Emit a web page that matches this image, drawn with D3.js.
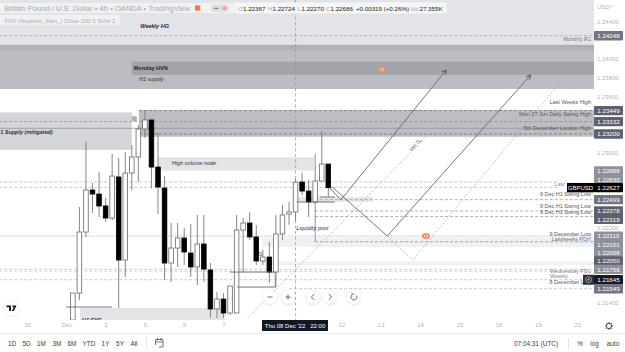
<!DOCTYPE html>
<html>
<head>
<meta charset="utf-8">
<script src="https://d3js.org/d3.v7.min.js"></script>
<style>
html,body{margin:0;padding:0;background:#fff;width:625px;height:352px;overflow:hidden}
svg{display:block}
text{font-family:"Liberation Sans",Arial,sans-serif}
</style>
</head>
<body>
<svg id="chart" width="625" height="352"></svg>
<script>
// GBP/USD 4h candles, first bar sits at index 7 of the session count
const firstBar = 7;
const opens  = [1.21215,1.21503,1.22154,1.22602,1.22559,1.22432,1.22303,1.22741,1.21855,1.22783,1.22954,1.23253,1.23349,1.22847,1.22623,1.21823,1.21983,1.22090,1.21930,1.21781,1.22026,1.21749,1.21333,1.21439,1.21290,1.21290,1.22175,1.22250,1.22101,1.21845,1.21887,1.21727,1.22133,1.22346,1.22367,1.22687,1.22591,1.22474,1.22698,1.22879];
const highs  = [1.21503,1.22421,1.23114,1.22677,1.22794,1.22517,1.22986,1.22943,1.23008,1.23082,1.23295,1.23455,1.23349,1.23210,1.22751,1.22250,1.22250,1.22197,1.22239,1.22336,1.22336,1.21823,1.21514,1.21503,1.21578,1.22336,1.22303,1.22367,1.22229,1.21962,1.22047,1.22336,1.22442,1.22474,1.22724,1.22783,1.22709,1.22986,1.23231,1.22879];
const lows   = [1.21215,1.21429,1.22101,1.22357,1.22314,1.22261,1.22282,1.21343,1.21674,1.22602,1.22687,1.23157,1.22623,1.22346,1.21642,1.21621,1.21781,1.21802,1.21674,1.21589,1.21621,1.21237,1.21237,1.21237,1.21269,1.21290,1.21727,1.22069,1.21802,1.21802,1.21610,1.21567,1.22069,1.22229,1.22270,1.22549,1.22314,1.22453,1.22698,1.22527];
const closes = [1.21503,1.22154,1.22602,1.22559,1.22432,1.22303,1.22751,1.21855,1.22783,1.22954,1.23253,1.23349,1.22847,1.22634,1.21823,1.21983,1.22090,1.21941,1.21781,1.22026,1.21759,1.21333,1.21439,1.21290,1.21578,1.22175,1.22250,1.22101,1.21845,1.21887,1.21727,1.22133,1.22336,1.22368,1.22686,1.22591,1.22474,1.22698,1.22879,1.22627];

// Time axis labels and the bar index each day begins at
const dayLabels = ["30","Dec","2","5","6","7","12","13","14","15","16","19","20"];
const dayStarts = [0,6,12,18,24,30,48,54,60,66,72,78,84];

// Regular price axis ticks that stay clear of the price tags
const priceTicks = [1.244,1.240,1.238,1.236,1.230,1.222,1.214];

// Price tags on the right edge, with a shade name per tag
const tagPrices = [1.24248,1.23449,1.23332,1.23200,1.22688,1.22630,1.22627,1.22499,1.22378,1.22319,1.22110,1.22101,1.22098,1.22050,1.21756,1.21645,1.21549];
const tagShades = ["mid","dark","dark","dark","pale","pale","last","mid","dark","dark","pale","pale","pale","dark","pale","navy","mid"];
const lastPrice = 1.22627;

// Shaded zones: [from index, to index, upper price, lower price, fill]
const zoneList = [
  [-5,87,1.24700,1.24150,"#e3e4e8"],
  [-5,87,1.24150,1.23680,"#bcbdc2"],
  [-5,87,1.24150,1.24090,"#b2b3b8"],
  [16,87,1.23970,1.23830,"#a2a4ab"],
  [17.1,87,1.23455,1.23170,"#bdbec3"],
  [-5,16,1.23430,1.23030,"#d4d5d9"],
  [20,43.8,1.22950,1.22810,"#e3e4e8"],
  [41.4,52.8,1.22527,1.22475,"#e6e7ea"],
  [35.9,87,1.22095,1.21995,"#eff0f2"],
  [35.9,87,1.21840,1.21800,"#f0f1f3"],
  [8.1,30.2,1.21343,1.21200,"#e3e4e8"]
];

// Horizontal levels: [from index, to index, price, dash, colour, width]
const levelList = [
  [-5,87,1.24248,"3,2","#a5a7ae",0.8],
  [-5,87,1.24135,"","#a9aab0",0.8],
  [17.1,87,1.23449,"3,2","#77797f",0.8],
  [-5,87,1.23332,"3,2","#8f9197",0.8],
  [-5,87,1.23260,"","#94959b",0.8],
  [17.1,87,1.23200,"3,2","#6f7178",0.8],
  [-5,81,1.22688,"3,2","#b7b9bf",0.8],
  [-5,81,1.22630,"3,2","#b7b9bf",0.8],
  [44.7,87,1.22499,"3,2","#9b9da4",0.8],
  [44,87,1.22378,"3,2","#9b9da4",0.8],
  [44,87,1.22319,"3,2","#9b9da4",0.8],
  [-5,87,1.22110,"1.5,1.5","#c6c8cd",1.4],
  [44,87,1.22050,"3,2","#8f9197",0.8],
  [-5,87,1.21756,"3,2","#bcbec3",0.8],
  [-5,87,1.21735,"3,2","#c8cacf",0.8],
  [-5,87,1.21645,"3,2","#bcbec3",0.8],
  [40,87,1.21549,"3,2","#bcbec3",0.8]
];

// Solid drawn boxes around the pullback structure: [from index, to index, price]
const boxLines = [
  [6,13,1.21354],
  [31,37.9,1.21727],
  [32.1,38,1.21567],
  [41.2,47,1.22474],
  [44.7,47,1.22527]
];
const boxUprights = [[37.9,1.21727,1.21567],[44,1.22474,1.22050]];

// Projected paths as [bar index, price] pairs
const arrowOne = [[46.1,1.22634],[47.9,1.22495],[64,1.23882]];
const arrowTwo = [[46.6,1.22634],[55,1.22111],[76.9,1.23829]];
const dottedTrend = [[33.7,1.21237],[60.9,1.23167]];
const dottedPath = [[55,1.22111],[58.9,1.21855],[82.6,1.23850]];

// Text notes on the chart: [text, index, price, anchor, weight, style, colour]
const noteList = [
  ["Weekly HG",17.3,1.24335,"start","700","italic","#26282e"],
  ["Monday HVN",16.3,1.23882,"start","700","normal","#24262c"],
  ["H1 supply",17.1,1.23760,"start","400","italic","#2e3036"],
  ["1 Supply (mitigated)",-4.1,1.23195,"start","700","italic","#2e3036"],
  ["High volume node",22.1,1.22870,"start","400","italic","#2e3036"],
  ["Liquidity pool",41.1,1.22175,"start","400","italic","#2e3036"],
  ["H1 FVG",8.4,1.21190,"start","700","italic","#2e3036"],
  ["S",35.4,1.21900,"start","400","normal","#55575e"],
  ["Monthly R1",86.1,1.24192,"end","400","normal","#74767d"],
  ["Last Weeks High",86.1,1.23520,"end","400","normal","#55575e"],
  ["Mon 27 Jun Daily Swing High",86.1,1.23395,"end","400","normal","#55575e"],
  ["5th December London High",86.1,1.23245,"end","400","normal","#55575e"],
  ["Last",82.1,1.22645,"end","400","normal","#8a8c93"],
  ["9 Dec H1 Swing Low",86.1,1.22538,"end","400","normal","#55575e"],
  ["9 Dec H1 Swing Low",86.1,1.22410,"end","400","normal","#55575e"],
  ["9 Dec H1 Swing Low",86.1,1.22346,"end","400","normal","#55575e"],
  ["9 December Low",86.1,1.22115,"end","400","normal","#55575e"],
  ["Lastweeks PDH",86.1,1.22060,"end","400","normal","#74767d"],
  ["Wednesday PDL",86.1,1.21720,"end","400","normal","#85878e"],
  ["Weekly",82.6,1.21665,"end","400","normal","#85878e"],
  ["8 December Low",86.1,1.21600,"end","400","normal","#55575e"]
];

// Orange alert markers
const alertMarks = [[54.2,1.23890],[60.9,1.22111]];

// Range buttons along the footer
const rangeNames = ["1D","5D","1M","3M","6M","YTD","1Y","5Y","All"];

const W = 625, H = 352, plotW = 594, plotH = 320;
const svg = d3.select("#chart");
const x = d3.scaleLinear().domain([-27/6.55,(plotW-27)/6.55]).range([0,plotW]);
const y = d3.scaleLinear().domain([1.23+152.7/9375,1.23-167.3/9375]).range([0,plotH]);

svg.append("defs").append("clipPath").attr("id","plotClip")
  .append("rect").attr("width",plotW).attr("height",plotH);
const defs = svg.select("defs");
const shadow = defs.append("filter").attr("id","softShadow")
  .attr("x","-50%").attr("y","-50%").attr("width","200%").attr("height","200%");
shadow.append("feDropShadow").attr("dx",0).attr("dy",0.5).attr("stdDeviation",1.4)
  .attr("flood-color","#000").attr("flood-opacity",0.18);

const plot = svg.append("g").attr("clip-path","url(#plotClip)");

// Zones
plot.selectAll("rect.zone").data(zoneList).join("rect").attr("class","zone")
  .attr("x",d=>x(d[0])).attr("width",d=>x(d[1])-x(d[0]))
  .attr("y",d=>y(d[2])).attr("height",d=>y(d[3])-y(d[2]))
  .attr("fill",d=>d[4]);

// Levels
plot.selectAll("line.level").data(levelList).join("line").attr("class","level")
  .attr("x1",d=>x(d[0])).attr("x2",d=>x(d[1]))
  .attr("y1",d=>y(d[2])).attr("y2",d=>y(d[2]))
  .attr("stroke",d=>d[4]).attr("stroke-width",d=>d[5])
  .attr("stroke-dasharray",d=>d[3]||null);

// Crosshair on the active bar
const crossBar = 41;
plot.append("line").attr("x1",x(crossBar)).attr("x2",x(crossBar)).attr("y1",0).attr("y2",plotH)
  .attr("stroke","#9a9ca3").attr("stroke-width",0.8).attr("stroke-dasharray","3,2.5");

// Dotted projections
const pathLine = d3.line().x(d=>x(d[0])).y(d=>y(d[1]));
[dottedTrend,dottedPath].forEach(p=>{
  plot.append("path").attr("d",pathLine(p)).attr("fill","none")
    .attr("stroke","#a3a5ab").attr("stroke-width",0.8).attr("stroke-dasharray","1.6,1.8");
});

// Candles
const bars = opens.map((o,i)=>({i:i+firstBar,o,h:highs[i],l:lows[i],c:closes[i]}));
const candle = plot.selectAll("g.bar").data(bars).join("g").attr("class","bar");
candle.append("line")
  .attr("x1",d=>x(d.i)).attr("x2",d=>x(d.i))
  .attr("y1",d=>y(d.h)).attr("y2",d=>y(d.l))
  .attr("stroke","#77797e").attr("stroke-width",0.9);
candle.append("rect")
  .attr("x",d=>x(d.i)-2.3).attr("width",4.6)
  .attr("y",d=>y(Math.max(d.o,d.c)))
  .attr("height",d=>Math.max(1,Math.abs(y(d.o)-y(d.c))))
  .attr("fill",d=>d.c>=d.o?"#fff":"#000")
  .attr("stroke",d=>d.c>=d.o?"#66686c":"#000").attr("stroke-width",0.8);

// Drawn boxes
plot.selectAll("line.box").data(boxLines).join("line").attr("class","box")
  .attr("x1",d=>x(d[0])).attr("x2",d=>x(d[1]))
  .attr("y1",d=>y(d[2])).attr("y2",d=>y(d[2]))
  .attr("stroke","#66686c").attr("stroke-width",0.9);
plot.selectAll("line.upright").data(boxUprights).join("line").attr("class","upright")
  .attr("x1",d=>x(d[0])).attr("x2",d=>x(d[0]))
  .attr("y1",d=>y(d[1])).attr("y2",d=>y(d[2]))
  .attr("stroke","#77797e").attr("stroke-width",0.8);

// Projected arrows with open heads
function arrowHead(p){
  const a=p[p.length-2], b=p[p.length-1];
  const ang=Math.atan2(y(b[1])-y(a[1]),x(b[0])-x(a[0]));
  const tip=[x(b[0]),y(b[1])], s=5;
  return d3.line()([
    [tip[0]-s*Math.cos(ang-0.5),tip[1]-s*Math.sin(ang-0.5)],
    tip,
    [tip[0]-s*Math.cos(ang+0.5),tip[1]-s*Math.sin(ang+0.5)]
  ]);
}
[arrowOne,arrowTwo].forEach(p=>{
  plot.append("path").attr("d",pathLine(p)).attr("fill","none")
    .attr("stroke","#66686e").attr("stroke-width",0.9);
  plot.append("path").attr("d",arrowHead(p)).attr("fill","none")
    .attr("stroke","#55575d").attr("stroke-width",0.9);
});

// Notes
plot.selectAll("text.note").data(noteList).join("text").attr("class","note")
  .attr("x",d=>x(d[1])).attr("y",d=>y(d[2]))
  .attr("text-anchor",d=>d[3]).attr("font-weight",d=>d[4]).attr("font-style",d=>d[5])
  .attr("fill",d=>d[6]).attr("font-size",5.5).text(d=>d[0]);

plot.append("text").text("HH TL").attr("font-size",5.2).attr("fill","#55575d")
  .attr("text-anchor","middle")
  .attr("transform",`translate(${x(59.5)},${y(1.23070)}) rotate(-47)`);

// Alert markers
alertMarks.forEach(m=>{
  const g=plot.append("g").attr("transform",`translate(${x(m[0])},${y(m[1])})`);
  g.append("ellipse").attr("rx",4).attr("ry",3).attr("fill","#f28a5a");
  g.append("ellipse").attr("rx",2).attr("ry",1.5).attr("fill","#fbe3d8");
  g.append("circle").attr("r",0.9).attr("fill","#ee6a2c");
});

// Small tag by the supply zone
plot.append("rect").attr("x",x(16)).attr("y",y(1.2339)).attr("width",5).attr("height",5)
  .attr("rx",1).attr("fill","#b0b1b6");

// Price axis
const yAxis = d3.axisRight(y).tickValues(priceTicks).tickSize(0).tickPadding(3)
  .tickFormat(d3.format(".5f"));
const yG = svg.append("g").attr("transform",`translate(${plotW},0)`).call(yAxis);
yG.select(".domain").remove();
yG.selectAll("text").attr("font-size",6).attr("fill","#b2b5bd");

svg.append("text").text("USD").attr("x",597).attr("y",8.5).attr("font-size",6).attr("fill","#b2b5bd");
svg.append("path").attr("d",d3.line()([[610,5.5],[611.5,7.2],[613,5.5]])).attr("fill","none")
  .attr("stroke","#b2b5bd").attr("stroke-width",0.7);

// Price tags: the last price stays put, the others stack away from it
const shadeFill = {mid:"#74767f",dark:"#5f626c",pale:"#8f9198",navy:"#171a24",last:"#000"};
const tagGap = 8.3;
const tagY = tagPrices.map(p=>y(p));
const pinned = tagPrices.indexOf(lastPrice);
for(let i=pinned-1;i>=0;i--) tagY[i]=Math.min(tagY[i],tagY[i+1]-tagGap);
for(let i=pinned+1;i<tagY.length;i++) tagY[i]=Math.max(tagY[i],tagY[i-1]+tagGap);
const tags = svg.selectAll("g.tag").data(tagPrices).join("g").attr("class","tag")
  .attr("transform",(d,i)=>`translate(${plotW},${tagY[i]})`);
tags.append("rect").attr("x",0).attr("y",-4.7).attr("width",29).attr("height",9.4).attr("rx",0.8)
  .attr("fill",(d,i)=>shadeFill[tagShades[i]]);
tags.append("text").attr("x",14.5).attr("y",2.2).attr("text-anchor","middle")
  .attr("font-size",6.2).attr("fill","#fff").text(d=>d3.format(".5f")(d));

// Symbol chip beside the last price
svg.append("rect").attr("x",567).attr("y",y(lastPrice)-4.7).attr("width",27).attr("height",9.4).attr("fill","#000");
svg.append("text").text("GBPUSD").attr("x",580.5).attr("y",y(lastPrice)+2.2)
  .attr("text-anchor","middle").attr("font-size",6).attr("fill","#fff");

// Add-order button at the crosshair price
const plusY = y(1.21645);
svg.append("rect").attr("x",583).attr("y",plusY-5).attr("width",11).attr("height",10).attr("fill","#2c2f39");
svg.append("circle").attr("cx",588.5).attr("cy",plusY).attr("r",3).attr("fill","none").attr("stroke","#d8d9dd").attr("stroke-width",0.6);
svg.append("path").attr("d",`M586.8 ${plusY}h3.4M588.5 ${plusY-1.7}v3.4`).attr("stroke","#d8d9dd").attr("stroke-width",0.5);

// Time axis
const labelByStart = new Map(dayStarts.map((s,i)=>[s,dayLabels[i]]));
const xAxis = d3.axisBottom(x).tickValues(dayStarts).tickSize(0).tickPadding(3)
  .tickFormat(d=>labelByStart.get(d));
const xG = svg.append("g").attr("transform",`translate(0,${plotH})`).call(xAxis);
xG.select(".domain").remove();
xG.selectAll("text").attr("font-size",6).attr("fill","#b2b5bd");

// Crosshair time tag
svg.append("rect").attr("x",262).attr("y",320).attr("width",66).attr("height",11).attr("fill","#131722");
svg.append("text").text("Thu 08 Dec '22   22:00").attr("x",295).attr("y",327.7)
  .attr("text-anchor","middle").attr("font-size",6).attr("fill","#fff").attr("xml:space","preserve");

// Chart navigation buttons
const navG = svg.append("g");
[[270,"minus"],[288,"plus"],[313,"left"],[330,"right"],[354,"reset"]].forEach(([cx,kind])=>{
  const g=navG.append("g").attr("transform",`translate(${cx},297)`);
  g.append("circle").attr("r",6.6).attr("fill","#fff").attr("filter","url(#softShadow)");
  const stroke={fill:"none",stroke:"#5f6169","stroke-width":0.9};
  let d="";
  if(kind==="minus") d="M-2.6 0H2.6";
  if(kind==="plus") d="M-2.6 0H2.6M0 -2.6V2.6";
  if(kind==="left") d="M1.2 -3L-1.6 0L1.2 3";
  if(kind==="right") d="M-1.2 -3L1.6 0L-1.2 3";
  if(kind==="reset") d="M-1.5 -2.6A3 3 0 1 0 2.6 -1.4M-1.5 -2.6L-2.6 -4.2M-1.5 -2.6L0.3 -3.2";
  const path=g.append("path").attr("d",d);
  Object.entries(stroke).forEach(([k,v])=>path.attr(k,v));
});

// Logo badge
const logo = svg.append("g").attr("transform","translate(11.5,308.5)");
logo.append("circle").attr("r",8).attr("fill","#fff").attr("stroke","#e6e7ea").attr("stroke-width",0.7);
logo.append("path").attr("d","M-5 -3H-0.5V2.5H-2.4V-1.2H-5ZM1 -3H5L2.4 2.5H0.4L2.3 -1.2H1Z").attr("fill","#131722");

// Header strips
svg.append("rect").attr("x",0).attr("y",3).attr("width",447).attr("height",10).attr("fill","#f0f1f3");
svg.append("rect").attr("x",236).attr("y",2.5).attr("width",209).attr("height",11).attr("fill","#f6f6f7");
svg.append("rect").attr("x",0).attr("y",15).attr("width",120).attr("height",10).attr("fill","#f0f1f3");
svg.append("text").text("British Pound / U.S. Dollar • 4h • OANDA • TradingView")
  .attr("x",4.5).attr("y",11).attr("font-size",7.6).attr("fill","#a6a9b1");
svg.append("text").text("FVG (Nephew_Sam_) Close 200 5 Solid 2")
  .attr("x",4.5).attr("y",22.5).attr("font-size",5.9).attr("fill","#abadb5");
svg.append("path").attr("d","M195 5.5H201L199.5 8L201 10.5H195Z").attr("fill","#f2793a");
svg.append("rect").attr("x",210.5).attr("y",4.5).attr("width",19).attr("height",7.5).attr("rx",3.7).attr("fill","#dfe0e4");
svg.append("rect").attr("x",214).attr("y",7.8).attr("width",4.5).attr("height",1).attr("fill","#6a6d75");
svg.append("circle").attr("cx",224.5).attr("cy",8.2).attr("r",2).attr("fill","#f3a27c");

const quoteParts = [["O","#a6a9b1",238],["1.22367","#1a1c22",243],["H","#a6a9b1",268],["1.22724","#1a1c22",272.5],["L","#a6a9b1",297.5],["1.22270","#1a1c22",301.5],["C","#a6a9b1",326],["1.22686","#1a1c22",330.5],["+0.00319 (+0.26%)","#1a1c22",356],["Vol","#a6a9b1",410],["27.355K","#1a1c22",419.5]];
svg.selectAll("text.quote").data(quoteParts).join("text").attr("class","quote")
  .attr("x",d=>d[2]).attr("y",11).attr("font-size",6.2).attr("fill",d=>d[1]).text(d=>d[0]);

// Footer
svg.append("line").attr("x1",0).attr("x2",W).attr("y1",333.5).attr("y2",333.5).attr("stroke","#eceded").attr("stroke-width",1);
const rangeCentres = [12,26.5,41.5,57,72,89,105.5,120,134];
svg.selectAll("text.range").data(rangeNames).join("text").attr("class","range")
  .attr("x",(d,i)=>rangeCentres[i]).attr("y",345.5).attr("text-anchor","middle")
  .attr("font-size",6.4).attr("fill","#3a3c44").text(d=>d);
svg.append("line").attr("x1",146.5).attr("x2",146.5).attr("y1",338).attr("y2",349).attr("stroke","#e3e4e7");
svg.append("line").attr("x1",568.5).attr("x2",568.5).attr("y1",338).attr("y2",349).attr("stroke","#e3e4e7");
svg.append("path").attr("d","M155.5 339.5H163V347H159M155.5 339.5V345M155.5 342H163M157.5 338V340.5M161 338V340.5")
  .attr("fill","none").attr("stroke","#3a3c44").attr("stroke-width",0.7);
svg.append("text").text("07:04:31 (UTC)").attr("x",514).attr("y",345.5).attr("font-size",6.4).attr("fill","#3a3c44");
[["%",580],["log",594.5],["auto",613]].forEach(([t,cx])=>{
  svg.append("text").text(t).attr("x",cx).attr("y",345.5).attr("text-anchor","middle").attr("font-size",6.4).attr("fill","#3a3c44");
});

// Settings gear
const gear = svg.append("g").attr("transform","translate(609,326)");
gear.append("circle").attr("r",2.6).attr("fill","none").attr("stroke","#3a3c44").attr("stroke-width",0.9);
d3.range(8).forEach(k=>{
  const a=k*Math.PI/4;
  gear.append("line").attr("x1",2.6*Math.cos(a)).attr("y1",2.6*Math.sin(a))
    .attr("x2",4*Math.cos(a)).attr("y2",4*Math.sin(a)).attr("stroke","#3a3c44").attr("stroke-width",0.9);
});
</script>
</body>
</html>
